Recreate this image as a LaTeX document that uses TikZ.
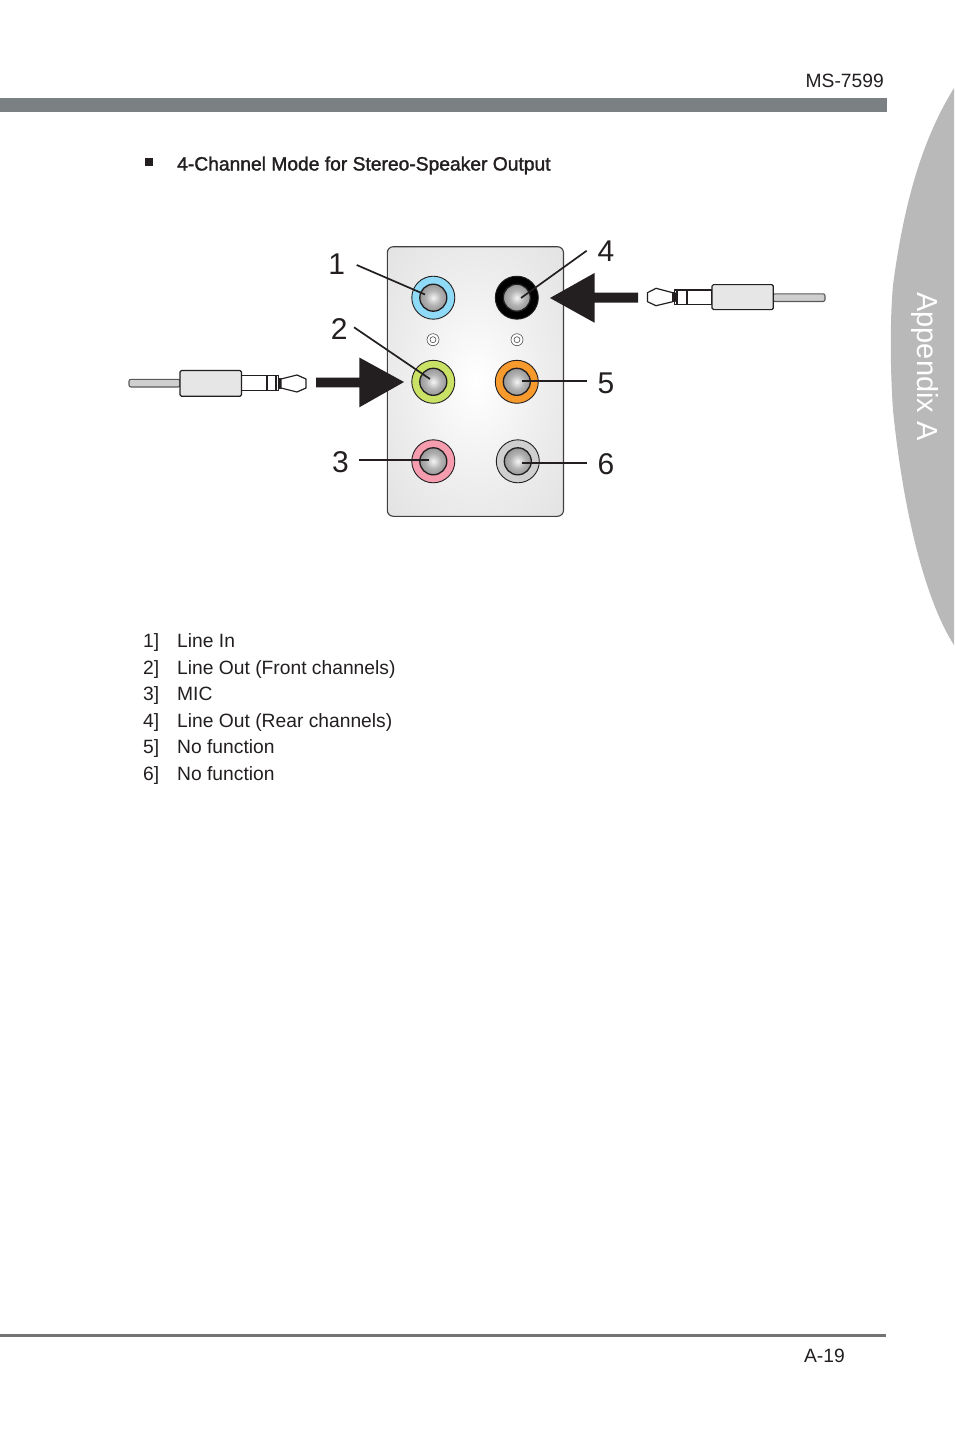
\documentclass[tikz,border=0pt]{standalone}
\usepackage{fontspec}
\setmainfont{Liberation Sans}
\newfontfamily\headfont[FakeBold=1.6]{Liberation Sans}
\definecolor{barc}{HTML}{7B8083}
\definecolor{tabc}{HTML}{BAB9BA}
\definecolor{dk}{HTML}{231F20}
\definecolor{cblue}{HTML}{8FDBF7}
\definecolor{cgreen}{HTML}{C9E265}
\definecolor{cpink}{HTML}{F59CAE}
\definecolor{corange}{HTML}{F79A2E}
\definecolor{cgrey}{HTML}{CFCFCF}
\definecolor{plugc}{HTML}{E6E6E6}
\definecolor{cablec}{HTML}{CFCFCF}
\pgfdeclareradialshading{panelsh}{\pgfpoint{0bp}{0bp}}{color(0bp)=(white); color(20bp)=(white!93!black); color(50bp)=(white!85!black); color(72bp)=(white!78!black)}
\pgfdeclareradialshading{coresh}{\pgfpoint{0bp}{0bp}}{color(0bp)=(white!96!black); color(14bp)=(white!70!black); color(50bp)=(white!36!black); color(72bp)=(white!36!black)}
\tikzset{
  x=1pt,y=-1pt,
  body/.style={font=\fontsize{19.25}{24}\selectfont,text=dk,inner sep=0pt,anchor=base west},
  rbody/.style={font=\fontsize{19.25}{24}\selectfont,text=dk,inner sep=0pt,anchor=base east},
  numeral/.style={font=\fontsize{30}{36}\selectfont,text=dk,inner sep=0pt,anchor=center},
  ring/.style={circle,draw=dk,line width=0.9pt,minimum size=43pt,inner sep=0pt},
  core/.style={circle,draw=dk,line width=1.3pt,minimum size=27pt,inner sep=0pt,shading=coresh},
  tiny/.style={circle,draw=black!70,line width=0.6pt,fill=white,inner sep=0pt},
  leader/.style={draw=dk,line width=1.7pt},
  bigarrow/.style={fill=dk,draw=none},
  plugline/.style={draw=dk,line width=1.2pt,line join=round},
  cableline/.style={draw=black!65,line width=1.1pt,fill=cablec,rounded corners=2pt},
}
\begin{document}
\begin{tikzpicture}
\useasboundingbox (0,0) rectangle (954,1432);
\fill[white] (0,0) rectangle (954,1432);
% side tab
\fill[tabc] (954,88) .. controls (925,135) and (905,195) .. (893,285)
  .. controls (890,320) and (890,365) .. (893,410)
  .. controls (903,510) and (925,600) .. (954,645) -- cycle;
\node[font=\fontsize{29}{34}\selectfont,text=white,rotate=-90,inner sep=0pt] (tabtext) at (924.5,366.5) {Appendix A};
% header and footer
\fill[barc] (0,98) rectangle (887,112);
\node[rbody] (model) at (884,87) {MS-7599};
\fill[black!55] (0,1333.8) rectangle (886,1336.6);
\node[rbody] (pageno) at (845,1362) {A-19};
% heading
\fill[dk] (145,158) rectangle (153,166);
\node[body,font=\fontsize{19.25}{24}\headfont] (heading) at (177,170.5) {4-Channel Mode for Stereo-Speaker Output};
% panel
\draw[draw=black!75,line width=1.1pt,rounded corners=6pt,shading=panelsh] (387.3,246.7) rectangle (563.5,516.3);
\node[tiny,minimum size=12pt] (s1) at (433,339.7) {};
\node[tiny,minimum size=6pt] (s1b) at (433,339.7) {};
\node[tiny,minimum size=12pt] (s2) at (517,339.7) {};
\node[tiny,minimum size=6pt] (s2b) at (517,339.7) {};
% jacks
\node[ring,fill=cblue] (r1) at (433.3,297.7) {};
\node[ring,fill=black] (r4) at (516.8,297.7) {};
\node[ring,fill=cgreen] (r2) at (433.3,381.8) {};
\node[ring,fill=corange] (r5) at (516.8,381.8) {};
\node[ring,fill=cpink] (r3) at (433.3,461.3) {};
\node[ring,fill=cgrey] (r6) at (517.8,461.3) {};
\node[core] (c1) at (r1) {};
\node[core] (c4) at (r4) {};
\node[core] (c2) at (r2) {};
\node[core] (c5) at (r5) {};
\node[core] (c3) at (r3) {};
\node[core] (c6) at (r6) {};
% labels and leaders
\node[numeral] (n1) at (336.8,264.5) {1};
\node[numeral] (n2) at (339.3,329) {2};
\node[numeral] (n3) at (340.5,462.5) {3};
\node[numeral] (n4) at (606,251.5) {4};
\node[numeral] (n5) at (606,383) {5};
\node[numeral] (n6) at (606,464) {6};
\coordinate (e1) at (425,294.5);
\coordinate (e2) at (430,379);
\coordinate (e3) at (428.5,460.3);
\coordinate (e4) at (521,298);
\coordinate (e5) at (521.5,381);
\coordinate (e6) at (521.5,462.7);
\draw[leader] (356.7,265) coordinate (b1) -- (e1);
\draw[leader] (354,327.3) coordinate (b2) -- (e2);
\draw[leader] (359,460.3) coordinate (b3) -- (e3);
\draw[leader] (586.7,250.7) coordinate (b4) -- (e4);
\draw[leader] (586.7,381) coordinate (b5) -- (e5);
\draw[leader] (586.7,462.7) coordinate (b6) -- (e6);
% big arrows
\fill[bigarrow] (550,298) -- (594.5,273) -- (594.5,292.7) -- (638,292.7) -- (638,302.7) -- (594.5,302.7) -- (594.5,322.7) -- cycle;
\fill[bigarrow] (404,382) -- (359.3,357.5) -- (359.3,377.5) -- (316,377.5) -- (316,387.3) -- (359.3,387.3) -- (359.3,407.3) -- cycle;
% right plug
\draw[cableline] (773,293.8) -- (825,293.8) -- (825,301.5) -- (773,301.5) -- cycle;
\draw[plugline,fill=white] (674.5,290) -- (712,290) -- (712,304.4) -- (674.5,304.4) -- cycle;
\draw[plugline,fill=plugc,rounded corners=1.5pt] (712,284.6) -- (773.3,284.6) -- (773.3,309.6) -- (712,309.6) -- cycle;
\draw[plugline] (677,290) -- (677,304.4);
\draw[draw=dk,line width=2.4pt] (686.7,290) -- (686.7,304.4);
\draw[plugline,fill=dk] (672.5,293) -- (675,293) -- (675,301.5) -- (672.5,301.5) -- cycle;
\draw[plugline,fill=white] (647.5,292.7) -- (656,288.3) -- (672.7,292.7) -- (672.7,301.7) -- (656,305.7) -- (647.5,301.7) -- cycle;
% left plug
\draw[cableline] (180,379.3) -- (129,379.3) -- (129,387) -- (180,387) -- cycle;
\draw[plugline,fill=white] (241,375.7) -- (278.5,375.7) -- (278.5,390.7) -- (241,390.7) -- cycle;
\draw[plugline,fill=plugc,rounded corners=1.5pt] (180,370.5) -- (241.5,370.5) -- (241.5,396.3) -- (180,396.3) -- cycle;
\draw[draw=dk,line width=2pt] (266.7,375.7) -- (266.7,390.7);
\draw[plugline] (276,375.7) -- (276,390.7);
\draw[plugline,fill=dk] (278.5,379) -- (281,379) -- (281,388) -- (278.5,388) -- cycle;
\draw[plugline,fill=white] (281,379) -- (297,375) -- (306,379) -- (306,388) -- (297,392) -- (281,388) -- cycle;
% list
\node[body] (l1n) at (143,647.5) {1]};
\node[body] (l1) at (177,647.5) {Line In};
\node[body] (l2n) at (143,674.3) {2]};
\node[body] (l2) at (177,674.3) {Line Out (Front channels)};
\node[body] (l3n) at (143,700.7) {3]};
\node[body] (l3) at (177,700.7) {MIC};
\node[body] (l4n) at (143,727.3) {4]};
\node[body] (l4) at (177,727.3) {Line Out (Rear channels)};
\node[body] (l5n) at (143,753.7) {5]};
\node[body] (l5) at (177,753.7) {No function};
\node[body] (l6n) at (143,780.3) {6]};
\node[body] (l6) at (177,780.3) {No function};
\end{tikzpicture}
\end{document}
